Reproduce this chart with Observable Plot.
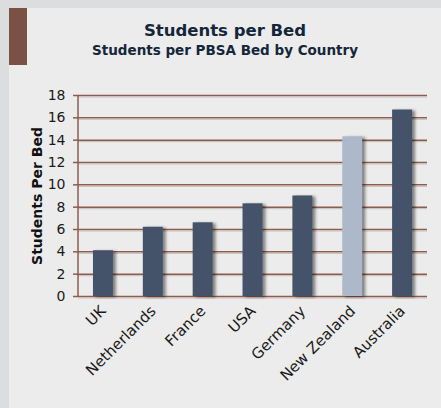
<!DOCTYPE html>
<html>
<head>
<meta charset="utf-8">
<script src="https://cdn.jsdelivr.net/npm/d3@7"></script>
<script src="https://cdn.jsdelivr.net/npm/@observablehq/plot@0.6"></script>
<style>
  html, body { margin: 0; padding: 0; width: 441px; height: 408px; overflow: hidden; background: #dcdddf; font-family: "DejaVu Sans", sans-serif; }
  #panel { position: absolute; left: 9px; top: 8px; width: 432px; height: 400px; background: #ececec; }
  #accent { position: absolute; left: 9px; top: 8px; width: 18px; height: 57px; background: #7a5145; }
  #title { position: absolute; left: 9px; width: 432px; top: 21px; text-align: center; font-weight: bold; font-size: 16.5px; color: #14263a; line-height: 19px; }
  #subtitle { position: absolute; left: 9px; width: 432px; top: 42px; text-align: center; font-weight: bold; font-size: 13.5px; color: #14263a; line-height: 16px; }
  #chart { position: absolute; left: 0; top: 70px; }
</style>
</head>
<body>
<div id="panel"></div>
<div id="accent"></div>
<div id="title">Students per Bed</div>
<div id="subtitle">Students per PBSA Bed by Country</div>
<div id="chart"></div>
<script>
const countries = ["UK", "Netherlands", "France", "USA", "Germany", "New Zealand", "Australia"];
const studentsPerBed = [4.1, 6.2, 6.6, 8.3, 9.0, 14.3, 16.7];
const highlighted = ["New Zealand"];
const yTicks = [0, 2, 4, 6, 8, 10, 12, 14, 16, 18];
const yLabel = "Students Per Bed";

const data = countries.map((c, i) => ({country: c, value: studentsPerBed[i]}));
const brown = "#8c5c4e";

const axisLine = (index, scales, values, dim) => {
  const x = dim.marginLeft;
  const line = document.createElementNS("http://www.w3.org/2000/svg", "line");
  line.setAttribute("x1", x); line.setAttribute("x2", x);
  line.setAttribute("y1", dim.marginTop); line.setAttribute("y2", dim.height - dim.marginBottom);
  line.setAttribute("stroke", brown); line.setAttribute("stroke-width", 1.5);
  return line;
};

const plot = Plot.plot({
  width: 441,
  height: 338,
  marginLeft: 78,
  marginRight: 14,
  marginTop: 25,
  marginBottom: 112,
  style: {background: "transparent", fontFamily: "DejaVu Sans, sans-serif", color: "#1a1a1a"},
  x: {domain: countries, paddingInner: 0.6, paddingOuter: 0.3, round: false, label: null},
  y: {domain: [0, 18], label: null},
  marks: [
    Plot.ruleY(yTicks, {stroke: brown, strokeWidth: 1.5}),
    Plot.ruleY(yTicks, {stroke: "#c9bcb6", strokeWidth: 1, dy: 1.5}),
    Plot.barY(data, {x: "country", y: "value", fill: d => highlighted.includes(d.country) ? "#adb9cb" : "#44536a"}),
    Plot.axisY({ticks: yTicks, tickSize: 5, tickPadding: 8, stroke: brown, strokeWidth: 1.5, strokeOpacity: 1, fontSize: 14, label: null}),
    Plot.axisX({tickSize: 0, tickPadding: 12, tickRotate: -45, fontSize: 15, label: null}),
    Plot.text([yLabel], {frameAnchor: "left", textAnchor: "middle", rotate: -90, dx: -41, fontWeight: "bold", fontSize: 14, fill: "#111"}),
    axisLine
  ]
});
d3.select(plot).selectAll('g[aria-label="bar"]').style("filter", "drop-shadow(3px 1px 1.5px rgba(0,0,0,0.45))");
document.getElementById("chart").appendChild(plot);
</script>
</body>
</html>
